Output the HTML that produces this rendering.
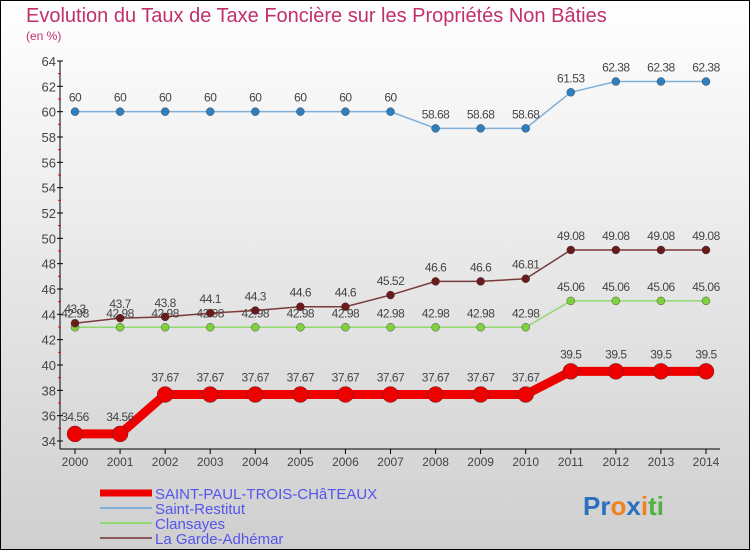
<!DOCTYPE html>
<html><head><meta charset="utf-8"><style>
html,body{margin:0;padding:0}
body{width:750px;height:550px;overflow:hidden;font-family:"Liberation Sans",sans-serif}
</style></head><body>
<svg id="chart" width="750" height="550" xmlns="http://www.w3.org/2000/svg" style="display:block">
<defs><linearGradient id="bg" x1="0" y1="0" x2="0" y2="1"><stop offset="0" stop-color="#ffffff"/><stop offset="1" stop-color="#cfcfcf"/></linearGradient></defs>
<rect x="0.5" y="0.5" width="749" height="549" fill="url(#bg)" stroke="#000" stroke-width="1"/>
<text x="26" y="22" font-size="20" fill="#c0306a">Evolution du Taux de Taxe Foncière sur les Propriétés Non Bâties</text>
<text x="26" y="40" font-size="12" fill="#c0306a">(en %)</text>
<g id="axes"></g>
<g id="series"></g>
<g id="legend"></g>
<text x="583" y="515" font-size="26" font-weight="bold"><tspan fill="#2a6fc0">Pr</tspan><tspan fill="#f08020">o</tspan><tspan fill="#2a6fc0">x</tspan><tspan fill="#f08020">i</tspan><tspan fill="#50b040">ti</tspan></text>
</svg>
<script>
const years=[2000,2001,2002,2003,2004,2005,2006,2007,2008,2009,2010,2011,2012,2013,2014];
const stPaul=[34.56,34.56,37.67,37.67,37.67,37.67,37.67,37.67,37.67,37.67,37.67,39.5,39.5,39.5,39.5];
const stRestitut=[60,60,60,60,60,60,60,60,58.68,58.68,58.68,61.53,62.38,62.38,62.38];
const clansayes=[42.98,42.98,42.98,42.98,42.98,42.98,42.98,42.98,42.98,42.98,42.98,45.06,45.06,45.06,45.06];
const garde=[43.3,43.7,43.8,44.1,44.3,44.6,44.6,45.52,46.6,46.6,46.81,49.08,49.08,49.08,49.08];
const yTicks=[34,36,38,40,42,44,46,48,50,52,54,56,58,60,62,64];
const NS="http://www.w3.org/2000/svg";
function X(i){return 75+i*(706-75)/(years.length-1);}
function Y(v){return 441-(v-34)*(380/30);}
function mk(p,tag,a){const e=document.createElementNS(NS,tag);for(const k in a)e.setAttribute(k,a[k]);p.appendChild(e);return e;}
const ax=document.getElementById('axes');
let l=mk(ax,'line',{x1:60,y1:Y(64),x2:60,y2:449,stroke:'#000'});

l=mk(ax,'line',{x1:60,y1:449,x2:720,y2:449,stroke:'#000'});

yTicks.forEach((t,i)=>{
  mk(ax,'line',{x1:57,y1:Y(t),x2:63,y2:Y(t),stroke:'#000'});
  if(i<yTicks.length-1)mk(ax,'line',{x1:58,y1:Y(t+1),x2:61,y2:Y(t+1),stroke:'#e00'});
  const tx=mk(ax,'text',{x:56,y:Y(t)+5,'font-size':13,fill:'#444','text-anchor':'end'});
  tx.textContent=t;
  
});
years.forEach((y,i)=>{
  mk(ax,'line',{x1:X(i),y1:449,x2:X(i),y2:454,stroke:'#000'});
  const tx=mk(ax,'text',{x:X(i),y:466,'font-size':12,fill:'#444','text-anchor':'middle'});
  tx.textContent=y;
  
});
const sg=document.getElementById('series');
function draw(vals,color,w,r,dot,name){
  const g=mk(sg,'g',{});
  
  mk(g,'polyline',{points:vals.map((v,i)=>X(i)+','+Y(v)).join(' '),fill:'none',stroke:color,'stroke-width':w});
  vals.forEach((v,i)=>{
    const c=mk(g,'circle',{cx:X(i),cy:Y(v),r:r,fill:dot,stroke:'#333','stroke-width':0.4});
    
    const t=mk(g,'text',{x:X(i),y:Y(v)-10-(r>5?3:0),'font-size':12,fill:'#444','text-anchor':'middle','letter-spacing':'-0.5'});
    t.textContent=v;
    
  });
}
draw(stRestitut,'#80b0d8',1.5,4,'#2e7fc0','series-saint-restitut');
draw(clansayes,'#90d870',1.5,4,'#80d040','series-clansayes');
draw(garde,'#7a3a3a',1.5,4,'#6a1a1a','series-la-garde-adhemar');
draw(stPaul,'#ee0000',9,8,'#ee0000','series-saint-paul');
const lg=document.getElementById('legend');
[['SAINT-PAUL-TROIS-CHâTEAUX','#ee0000',7],['Saint-Restitut','#80b0d8',2],['Clansayes','#90d870',2],['La Garde-Adhémar','#8a5a5a',2]].forEach((d,i)=>{
  const y=493+i*15;
  const g=mk(lg,'g',{});
  
  mk(g,'line',{x1:100,y1:y,x2:152,y2:y,stroke:d[1],'stroke-width':d[2]});
  const t=mk(g,'text',{x:155,y:y+6,'font-size':15,fill:'#5555ee'});
  t.textContent=d[0];
});
</script>
</body></html>
